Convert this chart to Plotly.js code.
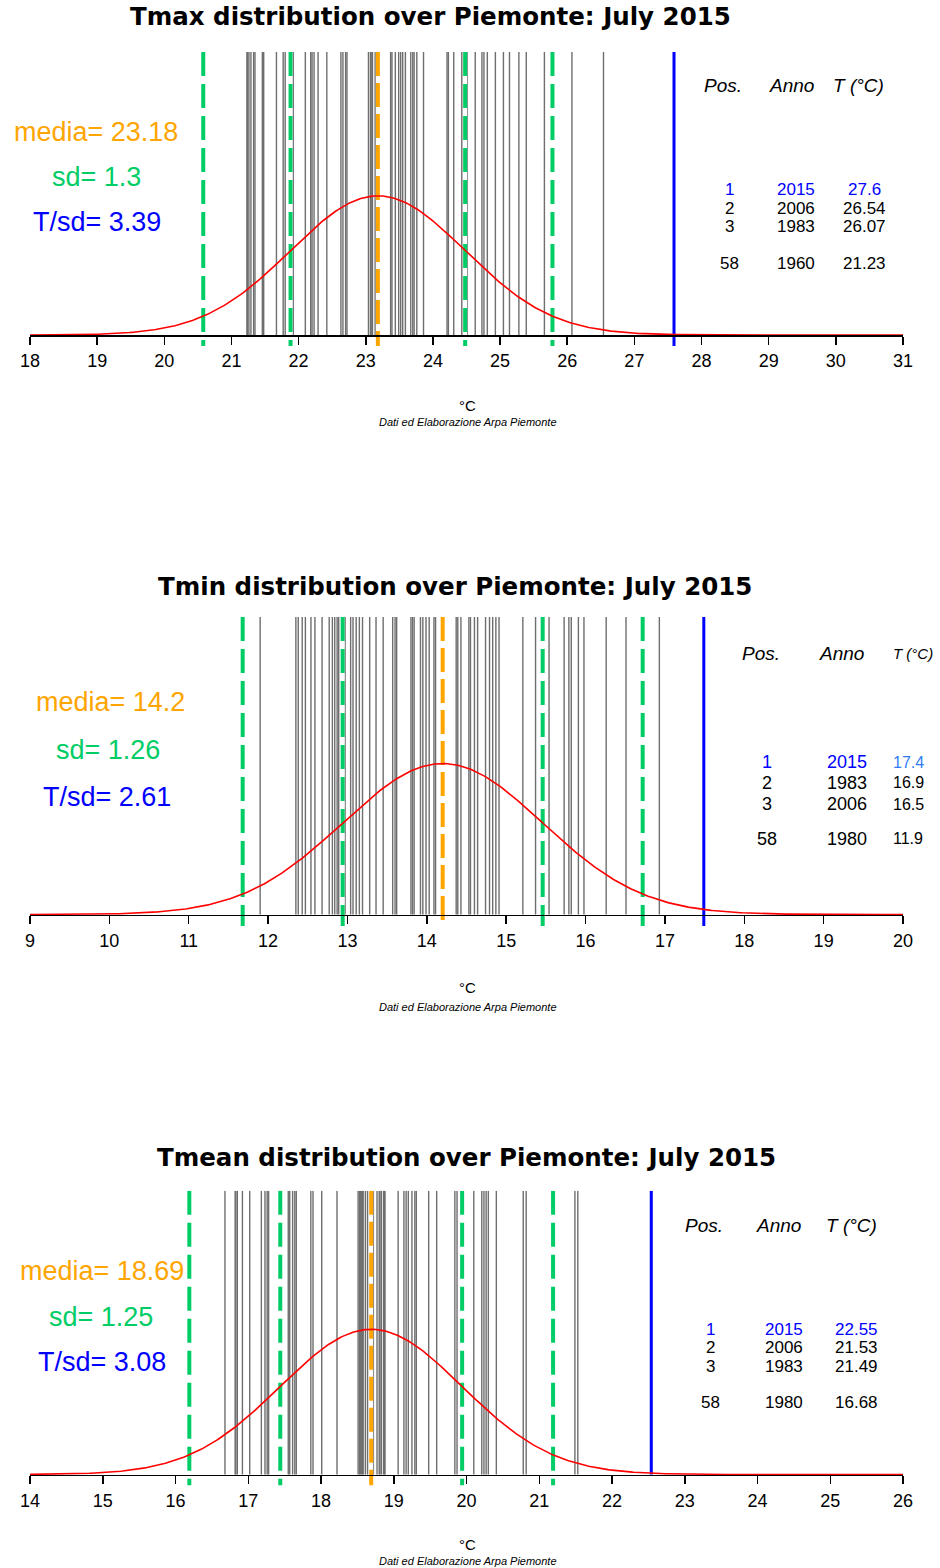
<!DOCTYPE html>
<html><head><meta charset="utf-8">
<script src="https://cdn.plot.ly/plotly-3.0.1.min.js"></script>
<style>html,body{margin:0;padding:0;background:#fff}#chart{width:940px;height:1568px}</style>
</head><body><div id="chart"></div>
<script>
// ---------------- DATA ----------------
const titles = ['Tmax distribution over Piemonte: July 2015',
                'Tmin distribution over Piemonte: July 2015',
                'Tmean distribution over Piemonte: July 2015'];
const xRanges = [[18, 31], [9, 20], [14, 26]];

const tmaxValues = [21.23,21.24,21.26,21.29,21.33,21.35,21.46,21.48,21.67,21.77,21.80,21.87,21.92,22.10,22.18,22.20,22.23,22.29,22.42,22.63,22.66,22.70,22.72,23.04,23.07,23.09,23.10,23.14,23.37,23.39,23.44,23.49,23.52,23.55,23.59,23.67,23.70,23.72,23.76,23.86,24.21,24.23,24.31,24.43,24.51,24.63,24.73,24.76,24.81,24.93,25.05,25.14,25.28,25.39,25.66,26.07,26.54];
const tmaxMean = 23.18, tmaxSd = 1.3, tmaxTsd = 3.39, tmax2015 = 27.59;
const tmaxRankPos = ['1','2','3','58'];
const tmaxRankYear = ['2015','2006','1983','1960'];
const tmaxRankT = ['27.6','26.54','26.07','21.23'];

const tminValues = [11.90,12.35,12.38,12.43,12.47,12.54,12.59,12.68,12.77,12.81,12.84,12.87,12.89,12.97,13.04,13.07,13.11,13.15,13.19,13.28,13.36,13.45,13.57,13.60,13.62,13.80,13.82,13.84,13.92,13.95,13.99,14.03,14.09,14.11,14.37,14.39,14.43,14.53,14.55,14.60,14.64,14.74,14.79,14.83,14.87,14.91,15.21,15.37,15.54,15.73,15.79,15.82,15.91,15.98,16.26,16.51,16.93];
const tminMean = 14.2, tminSd = 1.26, tminTsd = 2.61, tmin2015 = 17.49;
const tminRankPos = ['1','2','3','58'];
const tminRankYear = ['2015','1983','2006','1980'];
const tminRankT = ['17.4','16.9','16.5','11.9'];

const tmeanValues = [16.68,16.82,16.83,16.85,16.92,17.02,17.18,17.23,17.26,17.28,17.44,17.55,17.57,17.61,17.64,17.66,17.86,17.89,18.01,18.22,18.51,18.53,18.54,18.56,18.57,18.58,18.61,18.64,18.72,18.77,18.80,18.81,18.83,18.86,18.87,18.88,19.06,19.14,19.17,19.20,19.25,19.29,19.31,19.48,19.59,19.84,19.87,20.10,20.21,20.24,20.27,20.30,20.41,20.78,20.82,21.49,21.53];
const tmeanMean = 18.69, tmeanSd = 1.25, tmeanTsd = 3.08, tmean2015 = 22.54;
const tmeanRankPos = ['1','2','3','58'];
const tmeanRankYear = ['2015','2006','1983','1980'];
const tmeanRankT = ['22.55','21.53','21.49','16.68'];

const tableHeader = ['Pos.', 'Anno', 'T (°C)'];
const unitLabel = '°C';
const creditLabel = 'Dati ed Elaborazione Arpa Piemonte';

// ---------------- LAYOUT (pixel positions) ----------------
const W = 940, H = 1568;
const FONT = 'Liberation Sans, Arial, sans-serif';
const TOP = 0.624, BOT = -0.024;
const GREEN = '#00CD66', ORANGE = '#FFA500', BLUE = '#0000FF';

const panels = [
  {vals: tmaxValues, mean: tmaxMean, sd: tmaxSd, tsd: tmaxTsd, v2015: tmax2015,
   rp: tmaxRankPos, ry: tmaxRankYear, rt: tmaxRankT,
   axisY: 335, topY: 52, titleX: 430, titleY: 17, degY: 405, footY: 422,
   leftX: [96, 96, 97], leftY: [131.7, 176.7, 221.7],
   headY: 85, headX: [723, 791, 858], rowY: [190, 208.5, 227, 263], colX: [729, 796, 864],
   blueBottom: BOT, rSize: 17, tSize: 17, hSize: 19, t1Color: BLUE},
  {vals: tminValues, mean: tminMean, sd: tminSd, tsd: tminTsd, v2015: tmin2015,
   rp: tminRankPos, ry: tminRankYear, rt: tminRankT,
   axisY: 914.5, topY: 617, titleX: 455, titleY: 586, degY: 987, footY: 1006.5,
   leftX: [110, 108, 107], leftY: [701.7, 750, 796.7],
   headY: 653, headX: [761, 841, 913], rowY: [762, 782.5, 804, 838.5], colX: [767, 847, 908],
   blueBottom: BOT, rSize: 18, tSize: 16, hSize: 15, t1Color: '#2f7bf5'},
  {vals: tmeanValues, mean: tmeanMean, sd: tmeanSd, tsd: tmeanTsd, v2015: tmean2015,
   rp: tmeanRankPos, ry: tmeanRankYear, rt: tmeanRankT,
   axisY: 1474.5, topY: 1190.7, titleX: 466, titleY: 1157, degY: 1544, footY: 1560.5,
   leftX: [102, 101, 102], leftY: [1271, 1316.7, 1361.7],
   headY: 1225, headX: [704, 778, 851], rowY: [1329, 1347.7, 1366.5, 1402.7], colX: [710, 784, 856],
   blueBottom: 0, rSize: 17, tSize: 17, hSize: 19, t1Color: BLUE}
];

const traces = [];
const annotations = [];
const layout = {
  width: W, height: H, margin: {l: 0, r: 0, t: 0, b: 0},
  paper_bgcolor: 'white', plot_bgcolor: 'rgba(0,0,0,0)', showlegend: false,
  annotations: annotations
};

function ann(text, xPx, yPx, size, color, family, extra) {
  annotations.push(Object.assign({
    text: text, x: xPx / W, y: 1 - yPx / H, xref: 'paper', yref: 'paper',
    xanchor: 'center', yanchor: 'middle', showarrow: false,
    font: {family: family || FONT, size: size, color: color || 'black'}
  }, extra || {}));
}

function vline(xa, ya, x, y0, y1, color, width, dash) {
  traces.push({type: 'scatter', mode: 'lines', xaxis: xa, yaxis: ya,
    x: [x, x], y: [y0, y1], hoverinfo: 'skip',
    line: {color: color, width: width, dash: dash || 'solid'}});
}

panels.forEach((p, i) => {
  const sfx = i === 0 ? '' : String(i + 1);
  const xa = 'x' + sfx, ya = 'y' + sfx;
  const [lo, hi] = xRanges[i];
  const bottomPx = p.axisY + (-BOT / TOP) * (p.axisY - p.topY);

  layout['xaxis' + sfx] = {
    domain: [30 / W, 903 / W], range: [lo, hi], autorange: false,
    anchor: 'free', position: 1 - p.axisY / H,
    showline: true, linecolor: 'black', linewidth: 1.6,
    ticks: 'outside', ticklen: 8, tickwidth: 1.5, tickcolor: 'black',
    tick0: lo, dtick: 1, showgrid: false, zeroline: false,
    tickfont: {family: FONT, size: 18, color: 'black'}, ticklabelstandoff: 1,
    fixedrange: true
  };
  layout['yaxis' + sfx] = {
    domain: [1 - bottomPx / H, 1 - p.topY / H], range: [BOT, TOP], autorange: false,
    anchor: xa, visible: false, showgrid: false, zeroline: false, fixedrange: true
  };

  // yearly values as grey rug lines
  const gx = [], gy = [];
  p.vals.forEach(v => { gx.push(v, v, null); gy.push(0, TOP, null); });
  traces.push({type: 'scatter', mode: 'lines', xaxis: xa, yaxis: ya, x: gx, y: gy,
    hoverinfo: 'skip', line: {color: '#6e6e6e', width: 1.4}});

  // mean +/- 1, 2 sd (green) and mean (orange)
  const greens = [p.mean - 2 * p.sd, p.mean - p.sd, p.mean + p.sd, p.mean + 2 * p.sd];
  greens.concat([p.mean]).forEach(v => vline(xa, ya, v, TOP, BOT, 'white', 4));
  greens.forEach(v => vline(xa, ya, v, TOP, BOT, GREEN, 4, '24px,8px'));
  vline(xa, ya, p.mean, TOP, BOT, ORANGE, 4, '24px,7px');
  // 2015 value
  vline(xa, ya, p.v2015, TOP, p.blueBottom, BLUE, 3);

  // fitted normal density
  const cx = [], cy = [];
  const n = 500;
  for (let k = 0; k <= n; k++) {
    const x = lo + (hi - lo) * k / n;
    const z = (x - p.mean) / p.sd;
    cx.push(x);
    cy.push(Math.exp(-0.5 * z * z) / (p.sd * Math.sqrt(2 * Math.PI)));
  }
  traces.push({type: 'scatter', mode: 'lines', xaxis: xa, yaxis: ya, x: cx, y: cy,
    hoverinfo: 'skip', line: {color: '#FF0000', width: 1.6}});

  // texts
  ann('<b>' + titles[i] + '</b>', p.titleX, p.titleY, 24.5, 'black', 'DejaVu Sans, sans-serif');
  ann('media= ' + p.mean, p.leftX[0], p.leftY[0], 27, ORANGE);
  ann('sd= ' + p.sd, p.leftX[1], p.leftY[1], 27, GREEN);
  ann('T/sd= ' + p.tsd, p.leftX[2], p.leftY[2], 27, BLUE);
  tableHeader.forEach((h, k) => ann('<i>' + h + '</i>', p.headX[k], p.headY,
    k === 2 ? p.hSize : 19, 'black'));
  for (let r = 0; r < 4; r++) {
    const c = r === 0 ? BLUE : 'black';
    ann(p.rp[r], p.colX[0], p.rowY[r], p.rSize, c);
    ann(p.ry[r], p.colX[1], p.rowY[r], p.rSize, c);
    ann(p.rt[r], p.colX[2], p.rowY[r], p.tSize, r === 0 ? p.t1Color : 'black');
  }
  ann(unitLabel, 467, p.degY, 15, 'black');
  ann('<i>' + creditLabel + '</i>', 468, p.footY, 11, 'black');
});

Plotly.newPlot('chart', traces, layout, {staticPlot: true, displayModeBar: false});
</script>
</body></html>
